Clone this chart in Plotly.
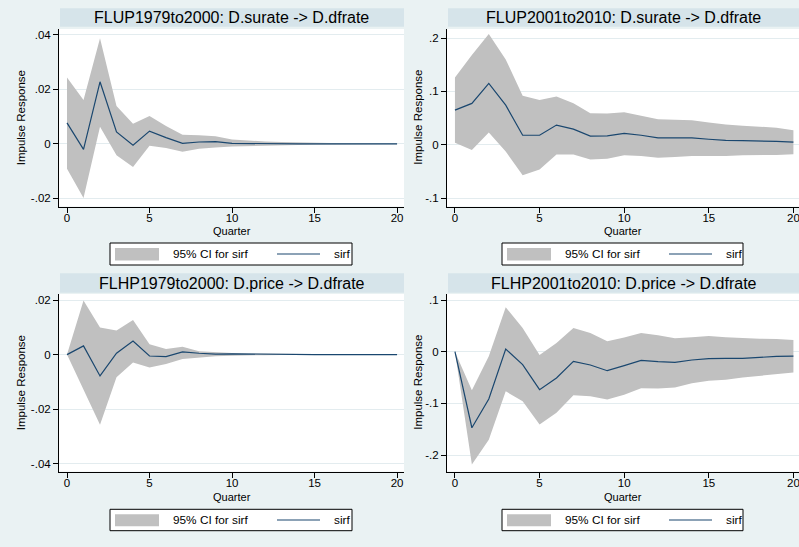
import plotly.graph_objects as go

quarters = list(range(21))
x_ticks = [0, 5, 10, 15, 20]
x_tick_labels = ["0", "5", "10", "15", "20"]

titles = [
    "FLUP1979to2000: D.surate -> D.dfrate",
    "FLUP2001to2010: D.surate -> D.dfrate",
    "FLHP1979to2000: D.price -> D.dfrate",
    "FLHP2001to2010: D.price -> D.dfrate",
]

# Panel 1: FLUP1979to2000
irf_1 = [.0077, -.002, .0228, .0044, -.0005, .0047, .0023, .0002, .0007, .0008, .0002,
         .0001, .0001, 0, 0, 0, 0, 0, 0, 0, 0]
hi_1 = [.0244, .0161, .0388, .0139, .0074, .0102, .0066, .0034, .0032, .0028, .0016,
        .0012, .0009, .0007, .0005, .0004, .0003, .0002, .0002, .0001, .0001]
lo_1 = [-.0091, -.0199, .0063, -.0042, -.0085, -.0007, -.0015, -.0029, -.0018, -.0013, -.0010,
        -.0008, -.0006, -.0005, -.0004, -.0003, -.0002, -.0002, -.0001, -.0001, -.0001]

# Panel 2: FLUP2001to2010
irf_2 = [.065, .0776, .115, .0744, .018, .018, .037, .0294, .0163, .017, .0214,
         .018, .0132, .013, .013, .0105, .0085, .0080, .0075, .0065, .005]
hi_2 = [.126, .168, .2076, .16, .092, .084, .0906, .078, .059, .0588, .061,
        .055, .048, .0469, .046, .042, .038, .036, .034, .032, .0275]
lo_2 = [.004, -.0094, .023, -.0125, -.0569, -.0463, -.018, -.018, -.0275, -.026, -.0194,
        -.021, -.024, -.0225, -.021, -.021, -.021, -.0195, -.019, -.019, -.0175]

# Panel 3: FLHP1979to2000
irf_3 = [0, .0032, -.0078, .0005, .005, -.0005, -.0007, .001, .0005, .0002, .0003,
         .0002, .0001, .0001, 0, 0, 0, 0, 0, 0, 0]
hi_3 = [0, .0198, .0099, .0088, .0127, .0038, .0021, .0029, .0012, .0008, .0006,
        .0004, .0003, .0002, .0002, .0001, .0001, .0001, .0001, .0001, .0001]
lo_3 = [0, -.0129, -.0257, -.0083, -.0029, -.0047, -.0034, -.0016, -.0010, -.0006, -.0004,
        -.0002, -.0002, -.0001, -.0001, -.0001, -.0001, 0, 0, 0, 0]

# Panel 4: FLHP2001to2010
irf_4 = [0, -.147, -.0913, .0051, -.025, -.0733, -.0508, -.0186, -.0257, -.0367, -.027,
         -.0167, -.019, -.0205, -.016, -.0135, -.013, -.013, -.011, -.009, -.0085]
hi_4 = [0, -.0746, -.009, .086, .0457, -.0064, .0167, .0457, .036, .02, .0277,
        .036, .032, .026, .028, .0304, .028, .026, .025, .0245, .0226]
lo_4 = [0, -.218, -.17, -.0765, -.0958, -.1408, -.118, -.0842, -.0862, -.0926, -.083,
        -.0707, -.071, -.069, -.061, -.056, -.054, -.050, -.047, -.043, -.040]

y_ticks = [
    [-.02, 0, .02, .04],
    [-.1, 0, .1, .2],
    [-.04, -.02, 0, .02],
    [-.2, -.1, 0, .1],
]
y_tick_labels = [
    ["-.02", "0", ".02", ".04"],
    ["-.1", "0", ".1", ".2"],
    ["-.04", "-.02", "0", ".02"],
    ["-.2", "-.1", "0", ".1"],
]
ci_label = "95% CI for sirf"
line_label = "sirf"
x_title = "Quarter"
y_title = "Impulse Response"

W, H = 799, 547
BG = "#EAF2F3"
BAND = "#D6E4EA"
GRID = "#E3ECEF"
FILL = "#C0C0C0"
NAVY = "#1A476F"
FONT = "Liberation Sans, Arial, sans-serif"


def pxx(x):
    return x / W


def pxy(y):
    return 1 - y / H


irfs = [irf_1, irf_2, irf_3, irf_4]
his = [hi_1, hi_2, hi_3, hi_4]
los = [lo_1, lo_2, lo_3, lo_4]

# layout geometry (pixels)
geo = [
    dict(x0=59, x1=404, y0=29, y1=206.5, yr=(-.0230, .0422), xr=(-0.485, 20.42),
         band=(60, 404, 8.3, 26.7), leg=(110, 352, 243, 265), ylab_x=20.5, xlab_y=231),
    dict(x0=447, x1=799, y0=29, y1=206.5, yr=(-.1154, .2169), xr=(-0.47, 20.33),
         band=(448, 799, 8.3, 26.7), leg=(502, 743, 243, 265), ylab_x=418, xlab_y=231),
    dict(x0=59, x1=404, y0=294, y1=471.5, yr=(-.0428, .0222), xr=(-0.485, 20.42),
         band=(60, 404, 273.3, 292.7), leg=(110, 352, 509.3, 530.7), ylab_x=20.5, xlab_y=496.5),
    dict(x0=447, x1=799, y0=294, y1=471.5, yr=(-.2316, .1116), xr=(-0.47, 20.33),
         band=(448, 799, 273.3, 292.7), leg=(502, 743, 509.3, 530.7), ylab_x=418, xlab_y=496.5),
]

fig = go.Figure()
shapes = []
annotations = []
layout_axes = {}

for i in range(4):
    g = geo[i]
    xa = "x" if i == 0 else f"x{i+1}"
    ya = "y" if i == 0 else f"y{i+1}"
    xname = "xaxis" if i == 0 else f"xaxis{i+1}"
    yname = "yaxis" if i == 0 else f"yaxis{i+1}"

    # CI band
    fig.add_trace(go.Scatter(
        x=quarters + quarters[::-1], y=his[i] + los[i][::-1],
        fill="toself", fillcolor=FILL, line=dict(width=0), mode="lines",
        xaxis=xa, yaxis=ya, showlegend=False, hoverinfo="skip"))
    # irf line
    fig.add_trace(go.Scatter(
        x=quarters, y=irfs[i], mode="lines", line=dict(color=NAVY, width=1.2),
        xaxis=xa, yaxis=ya, showlegend=False))

    layout_axes[xname] = dict(
        domain=[pxx(g["x0"]), pxx(g["x1"])], range=list(g["xr"]), anchor=ya,
        tickvals=x_ticks, ticktext=x_tick_labels, ticks="outside", ticklen=5,
        tickcolor="#000", showline=True, linecolor="#000", linewidth=1,
        showgrid=False, zeroline=False, automargin=False,
        ticklabeloverflow="allow", ticklabelstandoff=-4,
        tickfont=dict(family=FONT, size=11.5, color="#000"))
    layout_axes[yname] = dict(
        domain=[pxy(g["y1"]), pxy(g["y0"])], range=list(g["yr"]), anchor=xa,
        tickvals=y_ticks[i], ticktext=y_tick_labels[i], ticks="outside", ticklen=5,
        tickcolor="#000", showline=True, linecolor="#000", linewidth=1,
        showgrid=True, gridcolor=GRID, gridwidth=1, zeroline=False, automargin=False,
        ticklabeloverflow="allow",
        tickfont=dict(family=FONT, size=11.5, color="#000"))

    # white plot region
    shapes.append(dict(type="rect", xref="paper", yref="paper", layer="below",
                       x0=pxx(g["x0"]), x1=pxx(g["x1"]), y0=pxy(g["y1"]), y1=pxy(g["y0"]),
                       fillcolor="white", line=dict(width=0)))
    # title band
    bx0, bx1, by0, by1 = g["band"]
    shapes.append(dict(type="rect", xref="paper", yref="paper", layer="below",
                       x0=pxx(bx0), x1=pxx(bx1), y0=pxy(by1), y1=pxy(by0),
                       fillcolor=BAND, line=dict(width=0)))
    annotations.append(dict(text=titles[i], xref="paper", yref="paper",
                            x=pxx((bx0 + bx1) / 2), y=pxy((by0 + by1) / 2),
                            xanchor="center", yanchor="middle", showarrow=False,
                            font=dict(family=FONT, size=16, color="#000")))
    # axis titles
    annotations.append(dict(text=y_title, xref="paper", yref="paper",
                            x=pxx(g["ylab_x"]), y=pxy((g["y0"] + g["y1"]) / 2),
                            xanchor="center", yanchor="middle", textangle=-90,
                            showarrow=False, font=dict(family=FONT, size=11.5, color="#000")))
    annotations.append(dict(text=x_title, xref="paper", yref="paper",
                            x=pxx((g["x0"] + g["x1"]) / 2), y=pxy(g["xlab_y"]),
                            xanchor="center", yanchor="middle",
                            showarrow=False, font=dict(family=FONT, size=11, color="#000")))
    # legend box
    lx0, lx1, ly0, ly1 = g["leg"]
    lmid = (ly0 + ly1) / 2
    shapes.append(dict(type="rect", xref="paper", yref="paper",
                       x0=pxx(lx0), x1=pxx(lx1), y0=pxy(ly1), y1=pxy(ly0),
                       fillcolor="white", line=dict(color="#000", width=1)))
    shapes.append(dict(type="rect", xref="paper", yref="paper",
                       x0=pxx(lx0 + 5), x1=pxx(lx0 + 49), y0=pxy(ly1 - 4.5), y1=pxy(ly0 + 5),
                       fillcolor=FILL, line=dict(width=0)))
    annotations.append(dict(text=ci_label, xref="paper", yref="paper",
                            x=pxx(lx0 + 61), y=pxy(lmid), xanchor="left", yanchor="middle",
                            showarrow=False, font=dict(family=FONT, size=11.8, color="#000")))
    shapes.append(dict(type="line", xref="paper", yref="paper",
                       x0=pxx(lx0 + 167), x1=pxx(lx0 + 210), y0=pxy(lmid), y1=pxy(lmid),
                       line=dict(color=NAVY, width=1.2)))
    annotations.append(dict(text=line_label, xref="paper", yref="paper",
                            x=pxx(lx0 + 222), y=pxy(lmid), xanchor="left", yanchor="middle",
                            showarrow=False, font=dict(family=FONT, size=11.8, color="#000")))

fig.update_layout(
    width=W, height=H, autosize=False,
    margin=dict(l=0, r=0, t=0, b=0, pad=0),
    paper_bgcolor=BG, plot_bgcolor="rgba(0,0,0,0)",
    showlegend=False, shapes=shapes, annotations=annotations,
    font=dict(family=FONT, color="#000"),
    **layout_axes,
)

fig.write_html("out.html")
